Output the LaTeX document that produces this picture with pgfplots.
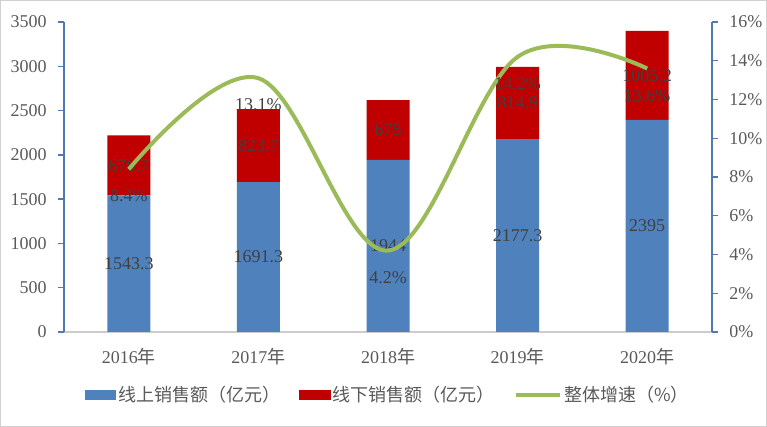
\documentclass[border=0pt]{standalone}
\usepackage{fontspec}
\setmainfont{Liberation Serif}
\newfontfamily\cjk{Noto Sans CJK SC}
\usepackage{pgfplots}
\pgfplotsset{compat=1.18}

\definecolor{onl}{HTML}{4F81BD}
\definecolor{offl}{HTML}{C00000}
\definecolor{grw}{HTML}{9BBB59}
\definecolor{axc}{HTML}{4F79B0}
\definecolor{txt}{HTML}{595959}
\definecolor{lbl}{HTML}{404040}

\pgfplotsset{
  base/.style={
    scale only axis, width=486pt, height=232.5pt,
    at={(0,0)}, anchor=south west,
    xmin=-0.5, xmax=4.5,
    /pgf/number format/assume math mode=true,
    /pgf/number format/1000 sep={},
    tick label style={font=\fontsize{13.5}{15}\selectfont, text=txt},
  },
}

\begin{document}
\begin{tikzpicture}
% stacked bars, left axis
\begin{axis}[base,
  ybar stacked, bar width=32.25pt,
  ymin=0, ymax=3500, ytick={0,500,...,3500},
  xtick={0,1,2,3,4},
  xticklabels={2016{\cjk 年},2017{\cjk 年},2018{\cjk 年},2019{\cjk 年},2020{\cjk 年}},
  axis x line*=bottom, axis y line*=left,
  x axis line style={draw=black!20, line width=0.8pt, -},
  y axis line style={draw=axc, line width=1.3pt, -},
  xtick style={draw=none},
  ytick style={draw=axc, line width=1pt},
  tick align=outside, major tick length=4.5pt,
  xticklabel style={yshift=-4pt},
  yticklabel style={xshift=-5pt},
]
\addplot[fill=onl, draw=none] coordinates {(0,1543.3) (1,1691.3) (2,1944) (3,2177.3) (4,2395)};
\addplot[fill=offl, draw=none] coordinates {(0,676.7) (1,823.7) (2,675) (3,814.9) (4,1005.2)};
\end{axis}

% value labels in the middle of each segment
\begin{axis}[base, hide axis, ymin=0, ymax=3500]
\addplot[draw=none, mark=none, nodes near coords, point meta=explicit symbolic,
  every node near coord/.style={anchor=center, font=\fontsize{13.5}{15}\selectfont, text=lbl}]
  coordinates {(0,771.65)[1543.3] (1,845.65)[1691.3] (2,972)[1944] (3,1088.65)[2177.3] (4,1197.5)[2395]};
\addplot[draw=none, mark=none, nodes near coords, point meta=explicit symbolic,
  every node near coord/.style={anchor=center, font=\fontsize{13.5}{15}\selectfont, text=lbl}]
  coordinates {(0,1881.65)[676.7] (1,2103.15)[823.7] (2,2281.5)[675] (3,2584.75)[814.9] (4,2897.6)[1005.2]};
\end{axis}

% growth line, right axis
\begin{axis}[base,
  ymin=0, ymax=16, ytick={0,2,...,16},
  yticklabel={\pgfmathprintnumber{\tick}\%},
  axis x line=none, axis y line*=right,
  y axis line style={draw=axc, line width=1.3pt, -},
  ytick style={draw=axc, line width=1pt},
  tick align=outside, major tick length=4.5pt,
  yticklabel style={xshift=5pt},
  legend columns=3,
  legend style={at={(0.5,-0.203)}, anchor=center, draw=none, fill=none,
    font=\cjk\fontsize{13.5}{15}\selectfont, text=txt,
    /tikz/every even column/.append style={column sep=12pt}},
]
\addlegendimage{legend image code/.code={\fill[onl] (0pt,-3.5pt) rectangle (23pt,3.5pt);}}
\addlegendentry{线上销售额（亿元）}
\addlegendimage{legend image code/.code={\fill[offl] (0pt,-3.5pt) rectangle (23pt,3.5pt);}}
\addlegendentry{线下销售额（亿元）}
\addplot[grw, line width=3pt, smooth, tension=0.6, mark=none,
  legend image code/.code={\draw[grw, line width=3pt] (0pt,0pt) -- (33pt,0pt);},
  nodes near coords={\pgfmathprintnumber[fixed,fixed zerofill,precision=1]{\pgfplotspointmeta}\%},
  every node near coord/.style={anchor=center, yshift=-20pt, font=\fontsize{13.5}{15}\selectfont, text=lbl}]
  coordinates {(0,8.4) (1,13.1) (2,4.2) (3,14.2) (4,13.6)};
\addlegendentry{整体增速（\%）}
\end{axis}

\draw[black!18, line width=0.8pt] (-47.6pt,-70.85pt) rectangle (526.85pt,248.6pt);
\end{tikzpicture}
\end{document}
